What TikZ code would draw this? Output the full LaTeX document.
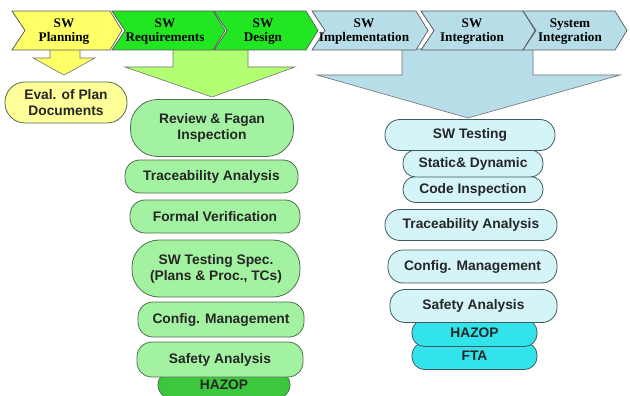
\documentclass[tikz,border=0pt]{standalone}
\usepackage{fontspec}
\setmainfont{Liberation Serif}
\newfontfamily\boxsans{Liberation Sans}
\definecolor{chevyellow}{HTML}{FFFF66}
\definecolor{chevgreen}{HTML}{22E622}
\definecolor{chevblue}{HTML}{B7DDE8}
\definecolor{arrowyellow}{HTML}{FFFF66}
\definecolor{arrowgreen}{HTML}{B2FF72}
\definecolor{arrowblue}{HTML}{B7DDE8}
\definecolor{boxyellow}{HTML}{FFFF99}
\definecolor{boxgreen}{HTML}{A2F2A2}
\definecolor{hazgreen}{HTML}{3CC83C}
\definecolor{boxblue}{HTML}{D4F4F7}
\definecolor{hazcyan}{HTML}{33E3EB}
\definecolor{edgegreen}{HTML}{4F6F4F}
\definecolor{edgeblue}{HTML}{3E5A60}
% phase chevron: left x, tip x, fill
\newcommand\phasechevron[3]{%
  \draw[chev, fill=#3] (#1,11) -- (#2-12,11) -- (#2,30.5) -- (#2-12,50)
    -- (#1,50) -- (#1+13,30.5) -- cycle;}
\begin{document}
\begin{tikzpicture}[x=1pt,y=-1pt,
  chev/.style={draw=black!65, line width=0.7pt, line join=miter},
  lbl/.style={font=\bfseries\fontsize{13.2}{14}\selectfont, align=center, text=black, inner sep=0pt},
  bigarrow/.style={draw=black!55, line width=0.6pt},
  pill/.style={draw=edgegreen, line width=0.8pt, inner sep=0pt, align=center,
    font=\boxsans\bfseries\fontsize{13.8}{16}\selectfont, text=black!85},
  gpill/.style={pill, fill=boxgreen},
  bpill/.style={pill, draw=edgeblue, fill=boxblue},
  slim/.style={rounded corners=12.5pt},
  one/.style={rounded corners=15pt},
  two/.style={rounded corners=27pt},
]
\useasboundingbox (0,0) rectangle (630,396);
\fill[white] (0,0) rectangle (630,396);

% broad arrows below the phases
\draw[bigarrow, fill=arrowyellow] (50,49) -- (80,49) -- (80,58) -- (95,58)
  -- (64,75) -- (33,58) -- (50,58) -- cycle;
\draw[bigarrow, fill=arrowgreen] (173,49) -- (248,49) -- (248,67) -- (295,67)
  -- (212,97) -- (125,67) -- (173,67) -- cycle;
\draw[bigarrow, fill=arrowblue] (402,49) -- (533,49) -- (533,75) -- (620,75)
  -- (468,118) -- (317,75) -- (402,75) -- cycle;

% phase chevrons
\phasechevron{12}{122}{chevyellow}
\phasechevron{112}{225}{chevgreen}
\phasechevron{214}{318}{chevgreen}
\phasechevron{312}{428}{chevblue}
\phasechevron{421}{535}{chevblue}
\phasechevron{523}{627}{chevblue}

\node[lbl] (planning) at (64,31.5) {SW\\Planning};
\node[lbl] (reqs) at (165,31.5) {SW\\Requirements};
\node[lbl] (design) at (263,31.5) {SW\\Design};
\node[lbl] (impl) at (364,31.5) {SW\\Implementation};
\node[lbl] (integ) at (472,31.5) {SW\\Integration};
\node[lbl] (sysint) at (570,31.5) {System\\Integration};

% planning activity
\node[pill, rounded corners=20pt, fill=boxyellow, minimum width=122pt, minimum height=41pt]
  (evalplan) at (66,102.5) {Eval. of Plan\\Documents};

% requirements and design activities
\node[pill, slim, fill=hazgreen, minimum width=132pt, minimum height=26pt]
  (hazopg) at (224,385) {HAZOP};
\node[gpill, one, minimum width=166pt, minimum height=35pt]
  (safetyg) at (220,359.5) {Safety Analysis};
\node[gpill, one, minimum width=166pt, minimum height=35pt]
  (configg) at (221,319.5) {Config. Management};
\node[gpill, two, minimum width=168pt, minimum height=57pt]
  (testspec) at (216,268.5) {SW Testing Spec.\\(Plans \& Proc., TCs)};
\node[gpill, one, minimum width=170pt, minimum height=33pt]
  (formal) at (215,216.5) {Formal Verification};
\node[gpill, one, minimum width=173pt, minimum height=33pt]
  (traceg) at (211.5,176.5) {Traceability Analysis};
\node[gpill, two, minimum width=163pt, minimum height=57pt]
  (review) at (212,128) {Review \& Fagan\\Inspection};

% implementation and integration activities
\node[bpill, slim, fill=hazcyan, minimum width=125pt, minimum height=27pt]
  (fta) at (474.5,356) {FTA};
\node[bpill, slim, fill=hazcyan, minimum width=125pt, minimum height=27pt]
  (hazopb) at (474.5,333) {HAZOP};
\node[bpill, one, minimum width=167pt, minimum height=33pt]
  (safetyb) at (473.5,306) {Safety Analysis};
\node[bpill, one, minimum width=169pt, minimum height=33pt]
  (configb) at (472.5,266.5) {Config. Management};
\node[bpill, one, minimum width=172pt, minimum height=31pt]
  (traceb) at (471,225) {Traceability Analysis};
\node[bpill, slim, minimum width=140pt, minimum height=26pt]
  (codeinsp) at (473,189.5) {Code Inspection};
\node[bpill, slim, minimum width=140pt, minimum height=27pt]
  (statdyn) at (473,163.5) {Static\& Dynamic};
\node[bpill, one, minimum width=170pt, minimum height=31pt]
  (swtest) at (470,135) {SW Testing};
\end{tikzpicture}
\end{document}
